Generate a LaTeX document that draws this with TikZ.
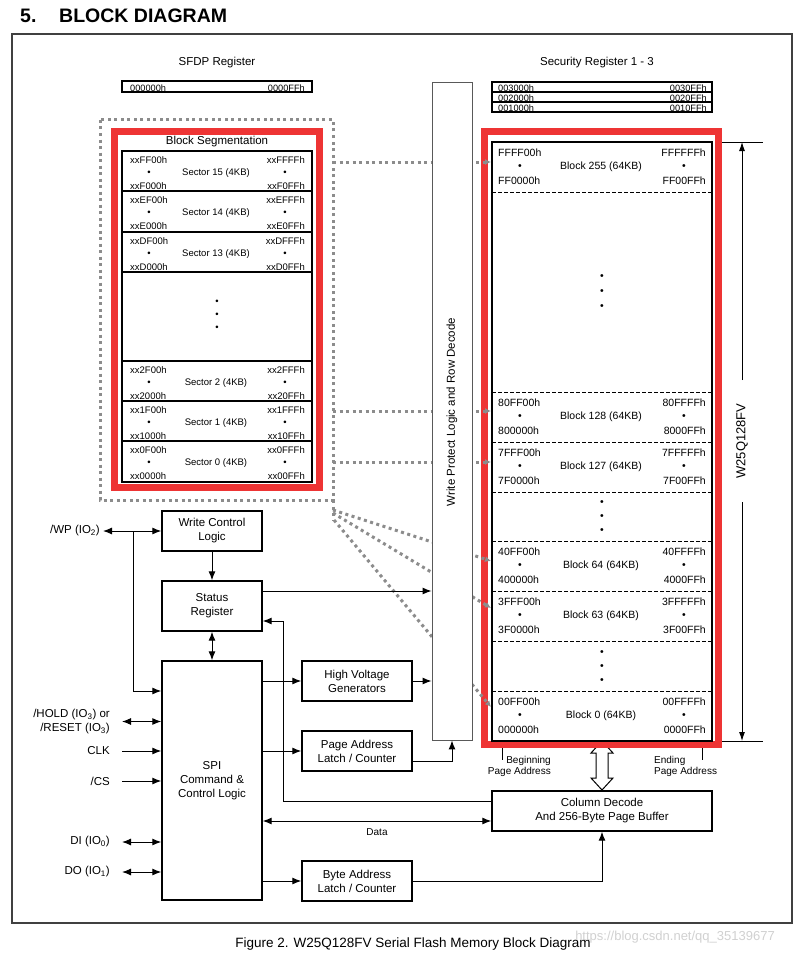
\documentclass[tikz,border=0pt]{standalone}
\usepackage{fontspec}
\setmainfont{Liberation Sans}
\usetikzlibrary{arrows.meta}
\definecolor{hlred}{RGB}{238,52,52}
\definecolor{dotgray}{RGB}{140,140,140}
\newcommand\fmain{\fontsize{11.5}{14}\selectfont}
\newcommand\fblk{\fontsize{10.5}{12}\selectfont}
\newcommand\fsec{\fontsize{9.5}{11}\selectfont}
\newcommand\freg{\fontsize{9.2}{10}\selectfont}
\newcommand\fpa{\fontsize{10}{11.5}\selectfont}
\tikzset{
 box/.style={draw=black,line width=1.4pt,fill=white,align=center,inner sep=0pt,font=\fmain},
 arr/.style={line width=1pt,-{Latex[length=9pt,width=7pt]}},
 dbl/.style={line width=1pt,{Latex[length=9pt,width=7pt]}-{Latex[length=9pt,width=7pt]}},
 gdot/.style={draw=dotgray,line width=3pt,dash pattern=on 3pt off 3.5pt},
 garr/.style={gdot,-{Latex[length=6pt,width=6pt]}},
 txt/.style={inner sep=0pt,font=\fmain},
 blktxt/.style={inner sep=0pt,font=\fblk},
 sectxt/.style={inner sep=0pt,font=\fsec},
 regtxt/.style={inner sep=0pt,font=\freg},
 sepdash/.style={line width=0.9pt,dash pattern=on 4pt off 2pt},
}
\newcommand\blkrow[7]{%
 \node[blktxt,anchor=west] (#1tl) at (498,#2+11) {#3};
 \node[blktxt] (#1ld) at (520,#2+25) {•};
 \node[blktxt,anchor=west] (#1bl) at (498,#2+39) {#4};
 \node[blktxt] (#1c) at (601,#2+25) {#5};
 \node[blktxt,anchor=east] (#1tr) at (706,#2+11) {#6};
 \node[blktxt] (#1rd) at (684,#2+25) {•};
 \node[blktxt,anchor=east] (#1br) at (706,#2+39) {#7};
}
\newcommand\secrow[7]{%
 \node[sectxt,anchor=west] (#1tl) at (130,#2+9) {#3};
 \node[sectxt] (#1ld) at (149,#2+22) {•};
 \node[sectxt,anchor=west] (#1bl) at (130,#2+35) {#4};
 \node[sectxt] (#1c) at (216,#2+22) {#5};
 \node[sectxt,anchor=east] (#1tr) at (305,#2+9) {#6};
 \node[sectxt] (#1rd) at (285,#2+22) {•};
 \node[sectxt,anchor=east] (#1br) at (305,#2+35) {#7};
}
\begin{document}
\begin{tikzpicture}[x=1pt,y=-1pt]
\useasboundingbox (0,0) rectangle (805,955);
\fill[white] (0,0) rectangle (805,955);
% header
\node[inner sep=0pt,anchor=west,font=\fontsize{19.5}{22}\selectfont\bfseries] (hnum) at (20,16) {5.};
\node[inner sep=0pt,anchor=west,font=\fontsize{19.5}{22}\selectfont\bfseries] (htitle) at (59,16) {BLOCK DIAGRAM};
% frame
\draw[line width=2pt,black!75] (12,34) rectangle (792,923);

% SFDP register
\node[txt] (sfdp) at (217,63) {SFDP Register};
\node[regtxt,anchor=base west] (sfdpl) at (130,91.5) {000000h};
\node[regtxt,anchor=base east] (sfdpr) at (305,91.5) {0000FFh};
\draw[line width=1.5pt] (122,81) rectangle (312,92);

% Security registers
\node[txt] (secreg) at (597,63) {Security Register 1 - 3};
\node[regtxt,anchor=base west] (sr3l) at (498,92) {003000h};
\node[regtxt,anchor=base east] (sr3r) at (707,92) {0030FFh};
\node[regtxt,anchor=base west] (sr2l) at (498,102) {002000h};
\node[regtxt,anchor=base east] (sr2r) at (707,102) {0020FFh};
\node[regtxt,anchor=base west] (sr1l) at (498,112) {001000h};
\node[regtxt,anchor=base east] (sr1r) at (707,112) {0010FFh};
\draw[line width=1.5pt] (492,82) rectangle (712,92);
\draw[line width=1.5pt] (492,92) rectangle (712,102);
\draw[line width=1.5pt] (492,102) rectangle (712,112);

% Block segmentation
\draw[gdot] (100,120) rectangle (333,500);
\draw[gdot] (333,500) -- (333,521);
\draw[hlred,line width=7pt] (114.5,131.5) rectangle (319.5,487.5);
\node[txt] (bseg) at (217,142) {Block Segmentation};
\draw[line width=1.5pt] (122,151) rectangle (312,482);
\foreach \yy in {191,232,272,361,401,441} \draw[line width=1.5pt] (122,\yy) -- (312,\yy);
\secrow{s15}{151}{xxFF00h}{xxF000h}{Sector 15 (4KB)}{xxFFFFh}{xxF0FFh}
\secrow{s14}{191}{xxEF00h}{xxE000h}{Sector 14 (4KB)}{xxEFFFh}{xxE0FFh}
\secrow{s13}{232}{xxDF00h}{xxD000h}{Sector 13 (4KB)}{xxDFFFh}{xxD0FFh}
\secrow{s2}{361}{xx2F00h}{xx2000h}{Sector 2 (4KB)}{xx2FFFh}{xx20FFh}
\secrow{s1}{401}{xx1F00h}{xx1000h}{Sector 1 (4KB)}{xx1FFFh}{xx10FFh}
\secrow{s0}{441}{xx0F00h}{xx0000h}{Sector 0 (4KB)}{xx0FFFh}{xx00FFh}
\node[sectxt] (sd1) at (217,302) {•};
\node[sectxt] (sd2) at (217,315) {•};
\node[sectxt] (sd3) at (217,328) {•};

% hollow double arrow between array and column decode
\draw[line width=1pt,fill=white] (602,741) -- (613,753) -- (608,753) -- (608,778) -- (613,778) -- (602,790) -- (591,778) -- (596,778) -- (596,753) -- (591,753) -- cycle;

% memory array
\draw[hlred,line width=7pt] (484.5,131.5) rectangle (718.5,744.5);
\draw[line width=1.5pt,fill=white] (492,142) rectangle (712,741);
\foreach \yy in {192,392,442,492,541,591,641,691} \draw[sepdash] (492,\yy) -- (712,\yy);
\blkrow{b255}{142}{FFFF00h}{FF0000h}{Block 255 (64KB)}{FFFFFFh}{FF00FFh}
\blkrow{b128}{392}{80FF00h}{800000h}{Block 128 (64KB)}{80FFFFh}{8000FFh}
\blkrow{b127}{442}{7FFF00h}{7F0000h}{Block 127 (64KB)}{7FFFFFh}{7F00FFh}
\blkrow{b64}{541}{40FF00h}{400000h}{Block 64 (64KB)}{40FFFFh}{4000FFh}
\blkrow{b63}{591}{3FFF00h}{3F0000h}{Block 63 (64KB)}{3FFFFFh}{3F00FFh}
\blkrow{b0}{691}{00FF00h}{000000h}{Block 0 (64KB)}{00FFFFh}{0000FFh}
\node[blktxt] (bd1) at (602,277) {•};
\node[blktxt] (bd2) at (602,292) {•};
\node[blktxt] (bd3) at (602,307) {•};
\node[blktxt] (bd4) at (602,503) {•};
\node[blktxt] (bd5) at (602,517) {•};
\node[blktxt] (bd6) at (602,531) {•};
\node[blktxt] (bd7) at (602,653) {•};
\node[blktxt] (bd8) at (602,667) {•};
\node[blktxt] (bd9) at (602,681) {•};

% gray dotted links
\coordinate (g1s) at (333,162); \coordinate (g1e) at (491,162);
\coordinate (g2s) at (333,411); \coordinate (g2e) at (491,411);
\coordinate (g3s) at (333,462); \coordinate (g3e) at (491,462);
\coordinate (g4s) at (333,510); \coordinate (g4e) at (491,561);
\coordinate (g5s) at (333,513); \coordinate (g5e) at (491,608);
\coordinate (g6s) at (334,520); \coordinate (g6e) at (491,707);
\foreach \i in {1,...,6} \draw[garr] (g\i s) -- (g\i e);

% write protect column
\node[draw=black!65,line width=0.9pt,fill=white,minimum width=40pt,minimum height=658pt,inner sep=0pt] (col) at (452,411) {};
\node[txt,rotate=90] (coltxt) at (452,412) {Write Protect Logic and Row Decode};

% control blocks
\node[box,minimum width=100pt,minimum height=40pt] (wcl) at (212,531) {Write Control\\Logic};
\node[box,minimum width=100pt,minimum height=50pt] (sr) at (212,606) {Status\\Register};
\node[box,minimum width=100pt,minimum height=239pt] (spi) at (212,780.5) {SPI\\Command \&\\Control Logic};
\node[box,minimum width=110pt,minimum height=40pt] (hvg) at (357,681) {High Voltage\\Generators};
\node[box,minimum width=110pt,minimum height=40pt] (palc) at (357,751) {Page Address\\Latch / Counter};
\node[box,minimum width=110pt,minimum height=40pt] (balc) at (357,881) {Byte Address\\Latch / Counter};
\node[box,minimum width=220pt,minimum height=40pt] (cd) at (602,811) {Column Decode\\And 256-Byte Page Buffer};

% pins
\node[txt,anchor=east] (wp) at (100,531) {/WP (IO\textsubscript{2})};
\node[txt,anchor=east,align=right,font=\fontsize{11.5}{13.5}\selectfont] (hold) at (110,721.5) {/HOLD (IO\textsubscript{3}) or\\/RESET (IO\textsubscript{3})};
\node[txt,anchor=east] (clk) at (110,751) {CLK};
\node[txt,anchor=east] (cs) at (110,781) {/CS};
\node[txt,anchor=east] (di) at (110,842) {DI (IO\textsubscript{0})};
\node[txt,anchor=east] (dop) at (110,872) {DO (IO\textsubscript{1})};

\coordinate (br) at (133,531);
\coordinate (y591) at (0,591);
\coordinate (y621) at (0,621);
\coordinate (y691) at (0,691);
\coordinate (y761) at (0,761);
\coordinate (y801) at (0,801);
\coordinate (y821) at (0,821);
\coordinate (k283) at (283,621);

\draw[dbl] ([xshift=3pt]wp.east) -- (wcl.west);
\draw[arr] (br) |- (spi.west |- y691);
\draw[dbl] ([xshift=12pt]hold.east) -- (spi.west |- hold.east);
\draw[arr] ([xshift=12pt]clk.east) -- (spi.west |- clk.east);
\draw[arr] ([xshift=12pt]cs.east) -- (spi.west |- cs.east);
\draw[dbl] ([xshift=12pt]di.east) -- (spi.west |- di.east);
\draw[dbl] ([xshift=12pt]dop.east) -- (spi.west |- dop.east);

\draw[arr] (wcl) -- (sr);
\draw[dbl] (sr) -- (spi);
\draw[arr] (sr.east |- y591) -- (col.west |- y591);
\draw[arr] (cd.west |- y801) -| (k283) -- (sr.east |- y621);
\draw[dbl] (spi.east |- y821) -- (cd.west |- y821);
\node[inner sep=0pt,font=\fpa] (data) at (377,832) {Data};
\draw[arr] (spi.east |- hvg) -- (hvg);
\draw[arr] (hvg) -- (col.west |- hvg);
\draw[arr] (spi.east |- palc) -- (palc);
\draw[arr] (palc.east |- y761) -| (col.south);
\draw[arr] (spi.east |- balc) -- (balc);
\draw[arr] (balc) -| (cd.south);

% page address labels
\coordinate (bpa1) at (502,748); \coordinate (bpa2) at (502,760);
\coordinate (epa1) at (702,748); \coordinate (epa2) at (702,760);
\draw[line width=1pt] (bpa1) -- (bpa2);
\draw[line width=1pt] (epa1) -- (epa2);
\node[inner sep=0pt,font=\fpa,align=right,anchor=east] (bpa) at (551,766.5) {Beginning\\Page Address};
\node[inner sep=0pt,font=\fpa,align=left,anchor=west] (epa) at (654,766.5) {Ending\\Page Address};

% W25Q128FV dimension
\coordinate (dl1) at (722,142); \coordinate (dl2) at (763,142);
\coordinate (dl3) at (722,741); \coordinate (dl4) at (763,741);
\draw[line width=0.8pt] (dl1) -- (dl2);
\draw[line width=0.8pt] (dl3) -- (dl4);
\node[inner sep=0pt,rotate=90,font=\fontsize{13}{15}\selectfont] (w25) at (742,441) {W25Q128FV};
\coordinate (w25t) at (742,380); \coordinate (w25b) at (742,502);
\coordinate (dtop) at (742,142); \coordinate (dbot) at (742,741);
\draw[line width=0.9pt,-{Latex[length=9pt,width=6pt]}] (w25t) -- (dtop);
\draw[line width=0.9pt,-{Latex[length=9pt,width=6pt]}] (w25b) -- (dbot);

% caption & watermark
\node[inner sep=0pt,font=\fontsize{13.5}{16}\selectfont] (cap) at (413,944) {Figure 2. W25Q128FV Serial Flash Memory Block Diagram};
\node[inner sep=0pt,font=\fontsize{13}{15}\selectfont,text=black!18] (wm) at (675,937) {https://blog.csdn.net/qq\_35139677};
\end{tikzpicture}
\end{document}
